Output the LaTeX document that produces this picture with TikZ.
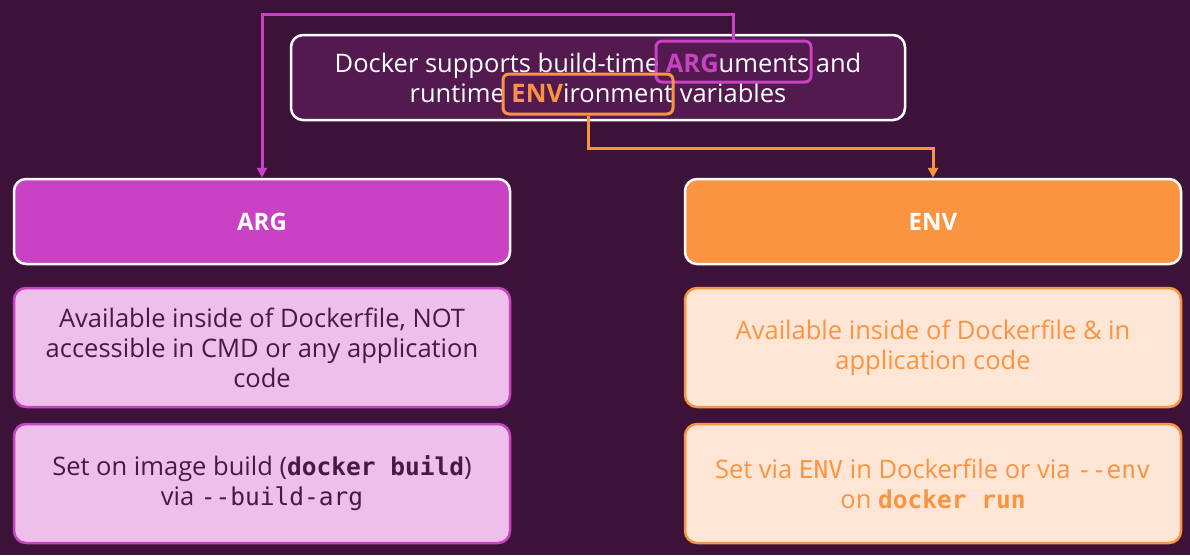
\documentclass[tikz,border=0pt]{standalone}
\usepackage{fontspec}
\setmainfont{Open Sans}
\setmonofont{DejaVu Sans Mono}
\usetikzlibrary{arrows.meta}
\definecolor{bgcol}{HTML}{3D1239}
\definecolor{topcol}{HTML}{521A4F}
\definecolor{argcol}{HTML}{C942C3}
\definecolor{envcol}{HTML}{FB9440}
\definecolor{argpale}{HTML}{EDBFEA}
\definecolor{envpale}{HTML}{FDE6D6}
\definecolor{darktext}{HTML}{4A1747}
\newcommand{\code}[1]{{\fontsize{24.5}{30}\selectfont\ttfamily #1}}
\tikzset{box/.style={draw, rounded corners=12pt, minimum width=496pt, align=center, line width=2.5pt},
         headbox/.style={box, draw=white, minimum height=85pt, text=white,
           font=\fontsize{24}{28}\selectfont\bfseries},
         argnote/.style={box, draw=argcol, fill=argpale, minimum height=119pt, text=darktext,
           font=\fontsize{25.5}{30}\selectfont},
         envnote/.style={box, draw=envcol, fill=envpale, minimum height=119pt, text=envcol,
           font=\fontsize{25.5}{30}\selectfont},
         mark box/.style={draw, rounded corners=6pt, line width=3pt},
         link/.style={line width=3pt, -{Triangle[length=10pt,width=10pt]}}}

\begin{document}
\begin{tikzpicture}[x=1pt,y=-1pt]
    \fill[bgcol] (0,0) rectangle (1190,555);
    \node[box, draw=white, fill=topcol, minimum width=614pt, minimum height=85pt, text=white,
      font=\fontsize{25.5}{30}\selectfont] (top) at (598,77.5)
      {Docker supports build-time {\color{argcol}\bfseries ARG}uments and\\
       runtime {\color{envcol}\bfseries ENV}ironment variables};
    \node[mark box, draw=argcol, minimum width=155pt, minimum height=41pt] (arghl) at (733.5,61.5) {};
    \node[mark box, draw=envcol, minimum width=170pt, minimum height=40pt] (envhl) at (588,94) {};
    \node[headbox, fill=argcol] (arg) at (262,221.5) {ARG};
    \node[headbox, fill=envcol] (env) at (933,221.5) {ENV};
    \node[argnote] (argA) at (262,347.5) {Available inside of Dockerfile, NOT\\
      accessible in CMD or any application\\ code};
    \node[argnote] (argB) at (262,483.5) {Set on image build (\code{\bfseries docker build})\\
      via \code{--build-arg}};
    \node[envnote] (envA) at (933,347.5) {Available inside of Dockerfile \& in\\ application code};
    \node[envnote] (envB) at (933,483.5) {Set via \code{ENV} in Dockerfile or via \code{--env}\\
      on \code{\bfseries docker run}};
    % links from the marked words
    \draw[link, argcol] (arghl.north) -- ++(0,-25) -| (arg.north);
    \draw[link, envcol] (envhl.south) -- ++(0,33) -| (env.north);
\end{tikzpicture}
\end{document}
